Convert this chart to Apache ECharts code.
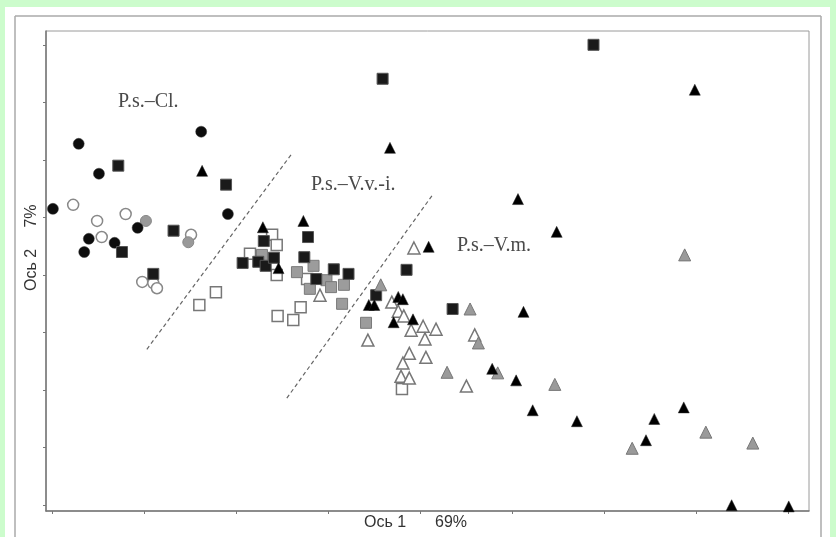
<!DOCTYPE html>
<html>
<head>
<meta charset="utf-8">
<script src="https://cdn.jsdelivr.net/npm/echarts@6/dist/echarts.min.js"></script>
<style>
  html, body { margin: 0; padding: 0; }
  #chart { width: 836px; height: 537px; }
</style>
</head>
<body>
<div id="chart"></div>
<script>
// ordination scores (axis units = tick steps)
var blackCircles = [[0.01,5.15],[0.29,6.28],[0.51,5.76],[0.40,4.63],[0.35,4.40],[0.68,4.56],[0.93,4.82],[1.62,6.49],[1.91,5.06]];
var openCircles  = [[0.23,5.22],[0.49,4.94],[0.80,5.06],[0.54,4.66],[1.51,4.70],[0.98,3.88],[1.10,3.86],[1.14,3.77]];
var grayCircles  = [[1.02,4.94],[1.48,4.57]];

var blackSquares = [[0.72,5.90],[1.89,5.57],[1.32,4.77],[0.76,4.40],[1.10,4.02],[2.30,4.59],[2.78,4.66],[2.07,4.21],
                    [2.24,4.23],[2.32,4.16],[2.41,4.30],[2.74,4.31],[2.87,3.93],[3.06,4.10],[3.22,4.02],[3.85,4.09],
                    [3.52,3.65],[4.35,3.41],[3.59,7.41],[5.88,8.00]];
var openSquares  = [[1.60,3.48],[1.78,3.70],[2.39,4.70],[2.44,4.52],[2.15,4.37],[2.44,4.00],[2.77,3.93],[2.70,3.44],
                    [2.45,3.29],[2.62,3.22],[3.80,2.02]];
var graySquares  = [[2.28,4.35],[2.66,4.05],[2.84,4.16],[2.80,3.76],[2.98,3.91],[3.03,3.79],[3.17,3.83],[3.15,3.50],[3.41,3.17]];

var blackTriangles = [[1.63,5.81],[3.67,6.21],[2.29,4.83],[2.73,4.94],[2.46,4.12],[4.09,4.49],[3.44,3.48],[3.50,3.48],
                      [3.76,3.62],[3.81,3.58],[3.71,3.18],[3.92,3.23],[5.06,5.32],[5.48,4.75],[5.12,3.36],[4.78,2.37],
                      [5.04,2.17],[5.22,1.65],[5.70,1.46],[6.54,1.50],[6.45,1.13],[6.86,1.70],[7.38,0.00],[8.00,-0.02],[6.98,7.22]];
var openTriangles  = [[2.91,3.65],[3.93,4.47],[3.69,3.53],[3.76,3.37],[3.82,3.29],[3.90,3.04],[4.03,3.11],[4.17,3.06],
                      [4.05,2.89],[3.43,2.87],[3.88,2.64],[4.06,2.57],[3.81,2.47],[3.79,2.24],[3.88,2.21],[4.59,2.96],[4.50,2.07]];
var grayTriangles  = [[3.57,3.83],[4.54,3.41],[4.63,2.82],[4.29,2.31],[4.84,2.30],[5.46,2.10],[6.30,0.99],[7.10,1.27],[7.61,1.08],[6.87,4.35]];

// dashed group boundaries
var divider1 = [[1.03,2.71],[2.61,6.12]];
var divider2 = [[2.55,1.86],[4.14,5.41]];

var xTickValues = [0,1,2,3,4,5,6,7,8];
var yTickValues = [0,1,2,3,4,5,6,7,8];
var groupLabels = ['P.s.–Cl.', 'P.s.–V.v.-i.', 'P.s.–V.m.'];
var xTitle = ['Ось 1', '69%'];
var yTitle = ['Ось 2', '7%'];

var chart = echarts.init(document.getElementById('chart'));

function pts(name, data, symbol, size, fill, border, bw) {
    return {
        name: name,
        type: 'scatter',
        data: data,
        symbol: symbol,
        symbolSize: size,
        itemStyle: { color: fill, borderColor: border, borderWidth: bw, opacity: 1 },
        z: 3
    };
}

function dashed(data) {
    return {
        type: 'line',
        data: data,
        symbol: 'none',
        silent: true,
        lineStyle: { color: '#666', width: 1.2, type: [4, 3] },
        z: 2
    };
}

var serif = '"Liberation Serif", "DejaVu Serif", serif';
var sans = '"Liberation Sans", Arial, sans-serif';

var option = {
    backgroundColor: '#ccfccc',
    animation: false,
    grid: {
        left: 46, right: 27, top: 31, bottom: 26,
        show: true, borderColor: '#9a9a9a', borderWidth: 1, backgroundColor: '#fff'
    },
    xAxis: {
        type: 'value', min: -0.065, max: 8.22,
        axisLine: { show: true, onZero: false, lineStyle: { color: '#777', width: 1.5 } },
        axisTick: { show: true, customValues: xTickValues, length: 3, lineStyle: { color: '#777' } },
        axisLabel: { show: false },
        splitLine: { show: false }
    },
    yAxis: {
        type: 'value', min: -0.1, max: 8.24,
        axisLine: { show: true, onZero: false, lineStyle: { color: '#777', width: 1.5 } },
        axisTick: { show: true, customValues: yTickValues, length: 3, lineStyle: { color: '#777' } },
        axisLabel: { show: false },
        splitLine: { show: false }
    },
    graphic: [
        { type: 'rect', shape: { x: 5, y: 7, width: 825, height: 530 }, style: { fill: '#fff' }, z: -10 },
        { type: 'line', shape: { x1: 15, y1: 16, x2: 821, y2: 16 }, style: { stroke: '#aaa', lineWidth: 1.5 }, z: -5 },
        { type: 'line', shape: { x1: 15, y1: 16, x2: 15, y2: 537 }, style: { stroke: '#aaa', lineWidth: 1.5 }, z: -5 },
        { type: 'line', shape: { x1: 821, y1: 16, x2: 821, y2: 537 }, style: { stroke: '#aaa', lineWidth: 1.5 }, z: -5 },
        { type: 'text', left: 118, top: 92, style: { text: groupLabels[0], font: '20px ' + serif, fill: '#4a4a4a' }, z: 5 },
        { type: 'text', left: 311, top: 175, style: { text: groupLabels[1], font: '20px ' + serif, fill: '#4a4a4a' }, z: 5 },
        { type: 'text', left: 457, top: 236, style: { text: groupLabels[2], font: '20px ' + serif, fill: '#4a4a4a' }, z: 5 },
        { type: 'text', left: 364, top: 515, style: { text: xTitle[0], font: '16px ' + sans, fill: '#333' }, z: 5 },
        { type: 'text', left: 435, top: 515, style: { text: xTitle[1], font: '16px ' + sans, fill: '#333' }, z: 5 },
        { type: 'text', x: 32, y: 270, rotation: Math.PI / 2,
          style: { text: yTitle[0], font: '16px ' + sans, fill: '#333', align: 'center', verticalAlign: 'middle' }, z: 5 },
        { type: 'text', x: 32, y: 216, rotation: Math.PI / 2,
          style: { text: yTitle[1], font: '16px ' + sans, fill: '#333', align: 'center', verticalAlign: 'middle' }, z: 5 }
    ],
    series: [
        dashed(divider1),
        dashed(divider2),
        pts('open circle', openCircles, 'circle', 11, '#fff', '#888', 1.5),
        pts('gray circle', grayCircles, 'circle', 11, '#999', '#888', 1),
        pts('black circle', blackCircles, 'circle', 11, '#0d0d0d', '#333', 0.5),
        pts('open square', openSquares, 'rect', 11, '#fff', '#777', 1.5),
        pts('gray square', graySquares, 'rect', 11, '#9c9c9c', '#7a7a7a', 1),
        pts('black square', blackSquares, 'rect', 11, '#1a1a1a', '#555', 1),
        pts('open triangle', openTriangles, 'triangle', 12, '#fff', '#777', 1.5),
        pts('gray triangle', grayTriangles, 'triangle', 12, '#9a9a9a', '#777', 1),
        pts('black triangle', blackTriangles, 'triangle', 11, '#000', '#222', 0.5)
    ]
};

chart.setOption(option);
</script>
</body>
</html>
